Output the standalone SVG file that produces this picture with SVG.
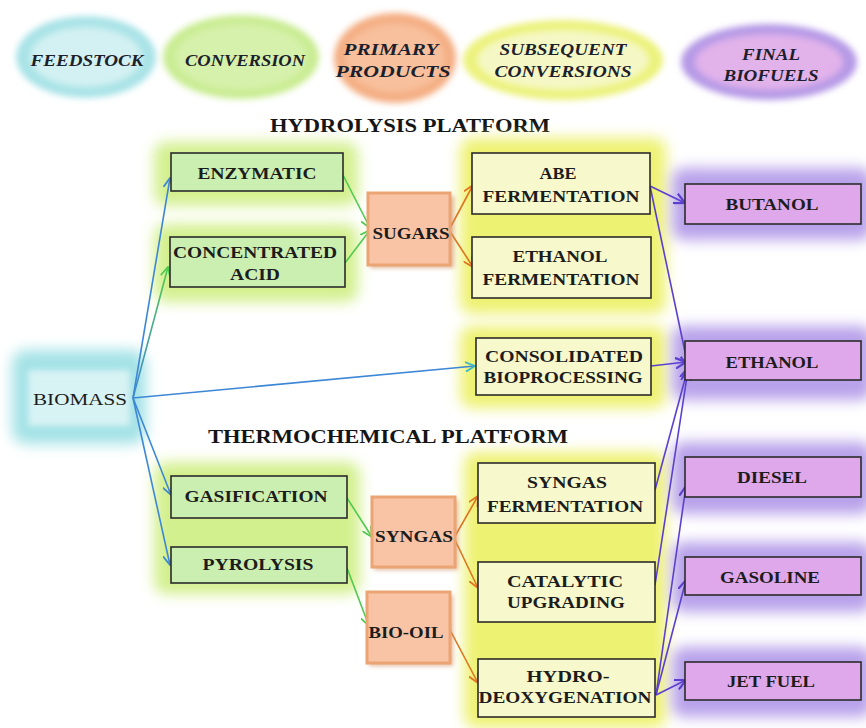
<svg xmlns="http://www.w3.org/2000/svg" width="866" height="728" viewBox="0 0 866 728">
  <style>
    .hdr { font-family: "Liberation Serif", "Times New Roman", serif; font-weight: bold; font-style: italic; font-size: 17px; fill: #1c1f2c; text-anchor: middle; }
    .ttl { font-family: "Liberation Serif", "Times New Roman", serif; font-weight: bold; font-size: 19px; fill: #151515; text-anchor: middle; }
    .lbl { font-family: "Liberation Serif", "Times New Roman", serif; font-weight: bold; font-size: 17px; fill: #1c1c1c; text-anchor: middle; }
    .lbl-r { font-family: "Liberation Serif", "Times New Roman", serif; font-size: 17px; fill: #1c1c1c; text-anchor: middle; }
    .box { stroke: #2b2b2b; stroke-width: 1.6; }
    .g-box { fill: #cbefb0; }
    .y-box { fill: #f7f8cc; }
    .p-box { fill: #dfa8ea; }
    .o-box { fill: #f9c4a6; stroke: #eba473; stroke-width: 3; }
    .conn { fill: none; stroke-width: 1.6; }
    .c-blue { stroke: #3d87d6; marker-end: url(#ah-blue); }
    .c-green { stroke: #4fca4f; marker-end: url(#ah-green); }
    .c-orange { stroke: #e0741e; marker-end: url(#ah-orange); }
    .c-purple { stroke: #5b40d0; marker-end: url(#ah-purple); }
  </style>
  <defs>
    <filter id="glow" x="-30%" y="-30%" width="160%" height="160%">
      <feGaussianBlur stdDeviation="7"/>
    </filter>
    <filter id="soft" x="-20%" y="-20%" width="140%" height="140%">
      <feGaussianBlur stdDeviation="3"/>
    </filter>
    <filter id="shadow" x="-20%" y="-20%" width="140%" height="140%">
      <feGaussianBlur stdDeviation="2"/>
    </filter>
    <marker id="ah-blue" viewBox="0 0 10 10" refX="9" refY="5" markerWidth="11" markerHeight="11" markerUnits="userSpaceOnUse" orient="auto">
      <path d="M0,0.5 L9,5 L0,9.5" fill="none" stroke="#3d87d6" stroke-width="1.6"/>
    </marker>
    <marker id="ah-cyan" viewBox="0 0 10 10" refX="9" refY="5" markerWidth="11" markerHeight="11" markerUnits="userSpaceOnUse" orient="auto">
      <path d="M0,0.5 L9,5 L0,9.5" fill="none" stroke="#3ab8c8" stroke-width="1.6"/>
    </marker>
    <marker id="ah-green" viewBox="0 0 10 10" refX="9" refY="5" markerWidth="11" markerHeight="11" markerUnits="userSpaceOnUse" orient="auto">
      <path d="M0,0.5 L9,5 L0,9.5" fill="none" stroke="#4fca4f" stroke-width="1.6"/>
    </marker>
    <marker id="ah-orange" viewBox="0 0 10 10" refX="9" refY="5" markerWidth="11" markerHeight="11" markerUnits="userSpaceOnUse" orient="auto">
      <path d="M0,0.5 L9,5 L0,9.5" fill="none" stroke="#e0741e" stroke-width="1.6"/>
    </marker>
    <marker id="ah-purple" viewBox="0 0 10 10" refX="9" refY="5" markerWidth="12" markerHeight="12" markerUnits="userSpaceOnUse" orient="auto">
      <path d="M0,0.5 L9,5 L0,9.5" fill="none" stroke="#5b40d0" stroke-width="1.8"/>
    </marker>
    <linearGradient id="blue-green" gradientUnits="userSpaceOnUse" x1="133" y1="398" x2="168" y2="267">
      <stop offset="0" stop-color="#3d87d6"/>
      <stop offset="1" stop-color="#4fca4f"/>
    </linearGradient>
  </defs>

  <rect width="866" height="728" fill="#ffffff"/>

  <!-- column headings -->
  <g id="head-feedstock">
    <ellipse cx="86" cy="57" rx="70" ry="41" fill="#a9e3e7" filter="url(#soft)"/>
    <ellipse cx="86" cy="57" rx="56" ry="30" fill="#d3f1f2" filter="url(#soft)"/>
    <text class="hdr" x="87" y="66" textLength="113" lengthAdjust="spacingAndGlyphs">FEEDSTOCK</text>
  </g>
  <g id="head-conversion">
    <ellipse cx="241" cy="57" rx="78" ry="42" fill="#c9ec92" filter="url(#soft)"/>
    <ellipse cx="241" cy="57" rx="66" ry="33" fill="#d6f1ab" filter="url(#soft)"/>
    <text class="hdr" x="245" y="66" textLength="120" lengthAdjust="spacingAndGlyphs">CONVERSION</text>
  </g>
  <g id="head-primary">
    <ellipse cx="395" cy="58" rx="61" ry="45" fill="#f4ad82" filter="url(#soft)"/>
    <ellipse cx="395" cy="58" rx="50" ry="35" fill="#f8c09c" filter="url(#soft)"/>
    <text class="hdr" x="391" y="55" textLength="95" lengthAdjust="spacingAndGlyphs">PRIMARY</text>
    <text class="hdr" x="393" y="77" textLength="115" lengthAdjust="spacingAndGlyphs">PRODUCTS</text>
  </g>
  <g id="head-subsequent">
    <ellipse cx="563" cy="60" rx="100" ry="40" fill="#ecf27c" filter="url(#soft)"/>
    <ellipse cx="563" cy="60" rx="86" ry="30" fill="#f5f8c4" filter="url(#soft)"/>
    <text class="hdr" x="563" y="55" textLength="127" lengthAdjust="spacingAndGlyphs">SUBSEQUENT</text>
    <text class="hdr" x="563" y="77" textLength="137" lengthAdjust="spacingAndGlyphs">CONVERSIONS</text>
  </g>
  <g id="head-final">
    <ellipse cx="769" cy="62" rx="88" ry="38" fill="#b69ae6" filter="url(#soft)"/>
    <ellipse cx="769" cy="62" rx="74" ry="28" fill="#e2b2ea" filter="url(#soft)"/>
    <text class="hdr" x="771" y="60" textLength="58" lengthAdjust="spacingAndGlyphs">FINAL</text>
    <text class="hdr" x="771" y="81" textLength="95" lengthAdjust="spacingAndGlyphs">BIOFUELS</text>
  </g>

  <!-- platform titles -->
  <text class="ttl" x="410" y="132" textLength="280" lengthAdjust="spacingAndGlyphs">HYDROLYSIS PLATFORM</text>
  <text class="ttl" x="388" y="443" textLength="360" lengthAdjust="spacingAndGlyphs">THERMOCHEMICAL  PLATFORM</text>

  <!-- soft halos behind node groups -->
  <g id="halos">
    <rect x="12" y="350" width="134" height="94" rx="14" fill="#a3e2e6" filter="url(#glow)"/>
    <rect x="28" y="370" width="102" height="56" fill="#d8f3f4" filter="url(#soft)"/>
    <rect x="154" y="142" width="204" height="64" rx="12" fill="#d3f08e" filter="url(#glow)"/>
    <rect x="154" y="224" width="204" height="78" rx="12" fill="#d3f08e" filter="url(#glow)"/>
    <rect x="154" y="462" width="206" height="132" rx="12" fill="#d3f08e" filter="url(#glow)"/>
    <rect x="460" y="138" width="206" height="176" rx="12" fill="#eef272" filter="url(#glow)"/>
    <rect x="460" y="326" width="206" height="82" rx="12" fill="#eef272" filter="url(#glow)"/>
    <rect x="464" y="452" width="202" height="276" rx="12" fill="#eef272" filter="url(#glow)"/>
    <rect x="672" y="168" width="200" height="72" rx="12" fill="#b8a2ea" filter="url(#glow)"/>
    <rect x="672" y="326" width="200" height="74" rx="12" fill="#b8a2ea" filter="url(#glow)"/>
    <rect x="672" y="442" width="200" height="72" rx="12" fill="#b8a2ea" filter="url(#glow)"/>
    <rect x="672" y="542" width="200" height="70" rx="12" fill="#b8a2ea" filter="url(#glow)"/>
    <rect x="672" y="647" width="200" height="70" rx="12" fill="#b8a2ea" filter="url(#glow)"/>
  </g>

  <!-- connectors -->
  <g id="connectors">
    <line class="conn c-blue" x1="133" y1="398" x2="170" y2="178"/>
    <line class="conn" x1="133" y1="398" x2="168" y2="267" stroke="url(#blue-green)" marker-end="url(#ah-green)"/>
    <line class="conn" x1="133" y1="398" x2="475" y2="366" stroke="#3d87d6" marker-end="url(#ah-cyan)"/>
    <line class="conn c-blue" x1="133" y1="398" x2="171" y2="495"/>
    <line class="conn c-blue" x1="133" y1="398" x2="170" y2="565"/>

    <line class="conn c-green" x1="343" y1="175" x2="370" y2="228"/>
    <line class="conn c-green" x1="345" y1="263" x2="370" y2="230"/>
    <line class="conn c-green" x1="347" y1="498" x2="372" y2="537"/>
    <line class="conn c-green" x1="347" y1="568" x2="369" y2="626"/>

    <line class="conn c-orange" x1="449" y1="230" x2="473" y2="185"/>
    <line class="conn c-orange" x1="449" y1="230" x2="473" y2="267"/>
    <line class="conn c-orange" x1="454" y1="538" x2="478" y2="496"/>
    <line class="conn c-orange" x1="454" y1="538" x2="478" y2="588"/>
    <line class="conn c-orange" x1="450" y1="630" x2="478" y2="683"/>

    <line class="conn c-purple" x1="650" y1="186" x2="685" y2="203"/>
    <line class="conn c-purple" x1="650" y1="186" x2="688" y2="366"/>
    <line class="conn c-purple" x1="651" y1="366" x2="686" y2="362"/>
    <line class="conn c-purple" x1="655" y1="490" x2="688" y2="368"/>
    <line class="conn c-purple" x1="655" y1="585" x2="688" y2="370"/>
    <line class="conn c-purple" x1="656" y1="695" x2="686" y2="486"/>
    <line class="conn c-purple" x1="656" y1="695" x2="686" y2="580"/>
    <line class="conn c-purple" x1="656" y1="695" x2="686" y2="680"/>
  </g>

  <!-- feedstock -->
  <g id="biomass">
    <text class="lbl-r" x="80" y="405" textLength="94" lengthAdjust="spacingAndGlyphs">BIOMASS</text>
  </g>

  <!-- conversion -->
  <g id="enzymatic">
    <rect class="box g-box" x="171" y="153" width="172" height="38"/>
    <text class="lbl" x="257" y="179" textLength="119" lengthAdjust="spacingAndGlyphs">ENZYMATIC</text>
  </g>
  <g id="concentrated-acid">
    <rect class="box g-box" x="170" y="237" width="175" height="50"/>
    <text class="lbl" x="255" y="258" textLength="164" lengthAdjust="spacingAndGlyphs">CONCENTRATED</text>
    <text class="lbl" x="255" y="280" textLength="50" lengthAdjust="spacingAndGlyphs">ACID</text>
  </g>
  <g id="gasification">
    <rect class="box g-box" x="171" y="476" width="176" height="42"/>
    <text class="lbl" x="256" y="502" textLength="143" lengthAdjust="spacingAndGlyphs">GASIFICATION</text>
  </g>
  <g id="pyrolysis">
    <rect class="box g-box" x="171" y="547" width="176" height="36"/>
    <text class="lbl" x="258" y="570" textLength="111" lengthAdjust="spacingAndGlyphs">PYROLYSIS</text>
  </g>

  <!-- primary products -->
  <g id="sugars">
    <rect x="370" y="196" width="84" height="72" fill="#d08a5a" opacity="0.6" filter="url(#shadow)"/>
    <rect class="o-box" x="368" y="193" width="82" height="72"/>
    <text class="lbl" x="411" y="239" textLength="77" lengthAdjust="spacingAndGlyphs">SUGARS</text>
  </g>
  <g id="syngas">
    <rect x="374" y="500" width="84" height="70" fill="#d08a5a" opacity="0.6" filter="url(#shadow)"/>
    <rect class="o-box" x="372" y="497" width="83" height="70"/>
    <text class="lbl" x="414" y="542" textLength="78" lengthAdjust="spacingAndGlyphs">SYNGAS</text>
  </g>
  <g id="bio-oil">
    <rect x="369" y="595" width="84" height="71" fill="#d08a5a" opacity="0.6" filter="url(#shadow)"/>
    <rect class="o-box" x="367" y="592" width="83" height="71"/>
    <text class="lbl" x="406" y="638" textLength="75" lengthAdjust="spacingAndGlyphs">BIO-OIL</text>
  </g>

  <!-- subsequent conversions -->
  <g id="abe-fermentation">
    <rect class="box y-box" x="472" y="153" width="178" height="61"/>
    <text class="lbl" x="558" y="179" textLength="37" lengthAdjust="spacingAndGlyphs">ABE</text>
    <text class="lbl" x="561" y="202" textLength="157" lengthAdjust="spacingAndGlyphs">FERMENTATION</text>
  </g>
  <g id="ethanol-fermentation">
    <rect class="box y-box" x="472" y="237" width="179" height="61"/>
    <text class="lbl" x="560" y="262" textLength="95" lengthAdjust="spacingAndGlyphs">ETHANOL</text>
    <text class="lbl" x="561" y="285" textLength="157" lengthAdjust="spacingAndGlyphs">FERMENTATION</text>
  </g>
  <g id="consolidated-bioprocessing">
    <rect class="box y-box" x="476" y="338" width="175" height="57"/>
    <text class="lbl" x="564" y="362" textLength="158" lengthAdjust="spacingAndGlyphs">CONSOLIDATED</text>
    <text class="lbl" x="563" y="383" textLength="159" lengthAdjust="spacingAndGlyphs">BIOPROCESSING</text>
  </g>
  <g id="syngas-fermentation">
    <rect class="box y-box" x="478" y="463" width="177" height="60"/>
    <text class="lbl" x="567" y="488" textLength="80" lengthAdjust="spacingAndGlyphs">SYNGAS</text>
    <text class="lbl" x="565" y="512" textLength="156" lengthAdjust="spacingAndGlyphs">FERMENTATION</text>
  </g>
  <g id="catalytic-upgrading">
    <rect class="box y-box" x="478" y="562" width="177" height="60"/>
    <text class="lbl" x="565" y="587" textLength="116" lengthAdjust="spacingAndGlyphs">CATALYTIC</text>
    <text class="lbl" x="566" y="608" textLength="118" lengthAdjust="spacingAndGlyphs">UPGRADING</text>
  </g>
  <g id="hydrodeoxygenation">
    <rect class="box y-box" x="478" y="659" width="177" height="58"/>
    <text class="lbl" x="568" y="682" textLength="83" lengthAdjust="spacingAndGlyphs">HYDRO-</text>
    <text class="lbl" x="565" y="703" textLength="173" lengthAdjust="spacingAndGlyphs">DEOXYGENATION</text>
  </g>

  <!-- final biofuels -->
  <g id="butanol">
    <rect class="box p-box" x="685" y="184" width="176" height="40"/>
    <text class="lbl" x="772" y="210" textLength="93" lengthAdjust="spacingAndGlyphs">BUTANOL</text>
  </g>
  <g id="ethanol">
    <rect class="box p-box" x="685" y="341" width="176" height="39"/>
    <text class="lbl" x="772" y="368" textLength="93" lengthAdjust="spacingAndGlyphs">ETHANOL</text>
  </g>
  <g id="diesel">
    <rect class="box p-box" x="685" y="457" width="176" height="40"/>
    <text class="lbl" x="772" y="483" textLength="70" lengthAdjust="spacingAndGlyphs">DIESEL</text>
  </g>
  <g id="gasoline">
    <rect class="box p-box" x="685" y="557" width="176" height="38"/>
    <text class="lbl" x="770" y="583" textLength="100" lengthAdjust="spacingAndGlyphs">GASOLINE</text>
  </g>
  <g id="jet-fuel">
    <rect class="box p-box" x="685" y="662" width="176" height="38"/>
    <text class="lbl" x="771" y="687" textLength="88" lengthAdjust="spacingAndGlyphs">JET FUEL</text>
  </g>
</svg>
